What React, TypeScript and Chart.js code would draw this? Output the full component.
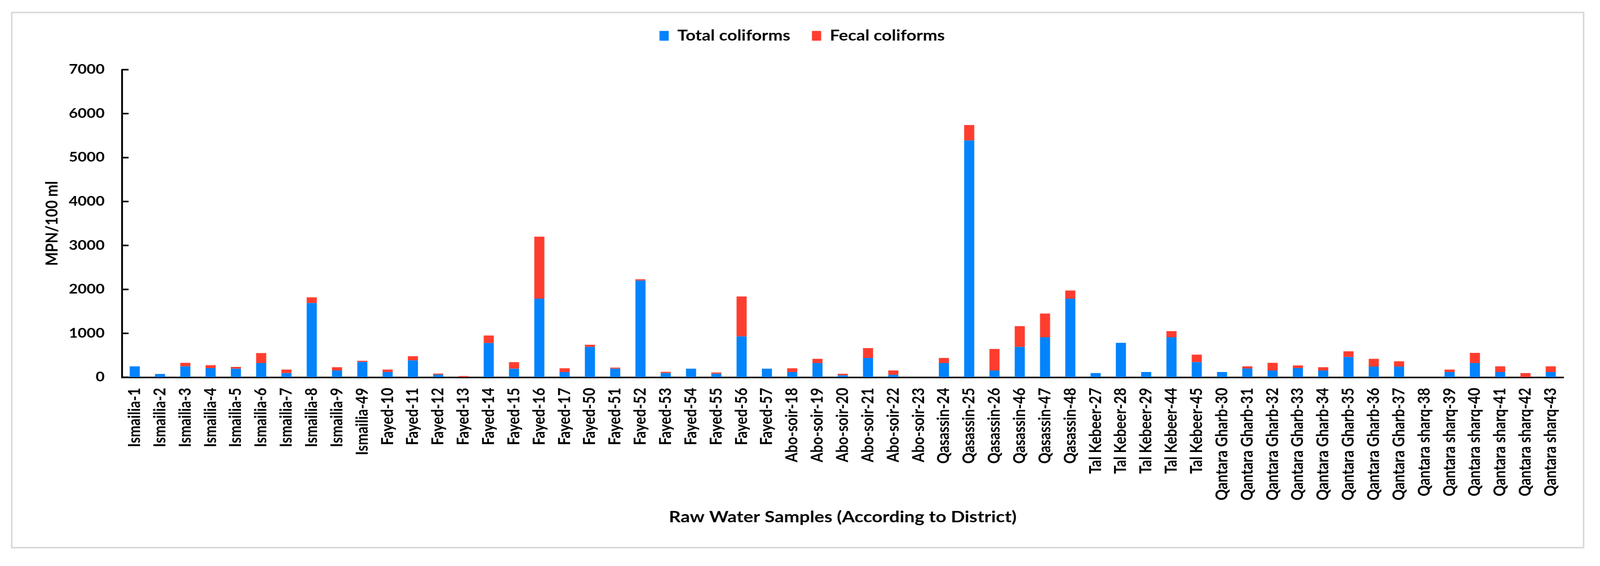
import { useEffect, useRef } from "react";
import { Chart, registerables } from "chart.js";

Chart.register(...registerables);

const samples = [
  "Ismailia-1", "Ismailia-2", "Ismailia-3", "Ismailia-4", "Ismailia-5", "Ismailia-6", "Ismailia-7", "Ismailia-8", "Ismailia-9", "Ismailia-49",
  "Fayed-10", "Fayed-11", "Fayed-12", "Fayed-13", "Fayed-14", "Fayed-15", "Fayed-16", "Fayed-17",
  "Fayed-50", "Fayed-51", "Fayed-52", "Fayed-53", "Fayed-54", "Fayed-55", "Fayed-56", "Fayed-57",
  "Abo-soir-18", "Abo-soir-19", "Abo-soir-20", "Abo-soir-21", "Abo-soir-22", "Abo-soir-23",
  "Qasassin-24", "Qasassin-25", "Qasassin-26", "Qasassin-46", "Qasassin-47", "Qasassin-48",
  "Tal Kebeer-27", "Tal Kebeer-28", "Tal Kebeer-29", "Tal Kebeer-44", "Tal Kebeer-45",
  "Qantara Gharb-30", "Qantara Gharb-31", "Qantara Gharb-32", "Qantara Gharb-33", "Qantara Gharb-34", "Qantara Gharb-35", "Qantara Gharb-36", "Qantara Gharb-37",
  "Qantara sharq-38", "Qantara sharq-39", "Qantara sharq-40", "Qantara sharq-41", "Qantara sharq-42", "Qantara sharq-43",
];

// blue part of each bar
const totalColiforms = [
  250, 75, 250, 210, 195, 325, 95, 1690, 155, 350,
  120, 385, 60, 5, 780, 195, 1790, 120,
  690, 195, 2200, 95, 195, 80, 930, 195,
  120, 325, 45, 440, 55, 0,
  325, 5390, 155, 690, 910, 1790,
  95, 785, 120, 910, 345,
  120, 200, 155, 210, 155, 460, 245, 245,
  0, 120, 325, 120, 0, 120,
];

// red part stacked on top
const fecalColiforms = [
  0, 0, 80, 65, 40, 225, 80, 130, 75, 25,
  55, 95, 25, 25, 170, 150, 1410, 85,
  50, 25, 30, 30, 0, 30, 910, 0,
  85, 95, 35, 225, 100, 0,
  115, 350, 490, 475, 540, 185,
  0, 0, 0, 140, 170,
  0, 50, 175, 60, 75, 130, 175, 120,
  0, 55, 230, 130, 95, 130,
];

const yMax = 7000;
const yStep = 1000;

// the original figure is stretched sideways, so the canvas is drawn narrower and widened with css
const STRETCH = 1.18;
const H = 1434;
const FONT = "Lato";

// Excel style tick marks pointing into the plot
const innerTicks = {
  id: "innerTicks",
  afterDraw(chart: any) {
    const { ctx, chartArea } = chart;
    const y = chart.scales.y;
    ctx.save();
    ctx.strokeStyle = "#000";
    ctx.lineWidth = 4;
    ctx.beginPath();
    y.ticks.forEach((t: any) => {
      const py = y.getPixelForValue(t.value);
      ctx.moveTo(chartArea.left, py);
      ctx.lineTo(chartArea.left + 14, py);
    });
    ctx.stroke();
    ctx.restore();
  },
};

// extra gap under the legend
const legendGap = {
  id: "legendGap",
  beforeInit(chart: any) {
    const fit = chart.legend.fit;
    chart.legend.fit = function () {
      fit.bind(chart.legend)();
      this.height += 58;
    };
  },
};

export default function App() {
  const canvasRef = useRef<HTMLCanvasElement | null>(null);
  const pageW = Math.max(1000, window.innerWidth - 16);
  const W = Math.round(pageW / STRETCH);

  useEffect(() => {
    if (!canvasRef.current) return;
    const ctx = canvasRef.current.getContext("2d");
    if (!ctx) return;

    const chart = new Chart(ctx, {
      type: "bar",
      data: {
        labels: samples,
        datasets: [
          {
            label: "Total coliforms",
            data: totalColiforms,
            backgroundColor: "#0383FC",
            borderWidth: 0,
          },
          {
            label: "Fecal coliforms",
            data: fecalColiforms,
            backgroundColor: "#FF3D2F",
            borderWidth: 0,
          },
        ],
      },
      options: {
        animation: false,
        responsive: false,
        devicePixelRatio: 1,
        datasets: { bar: { categoryPercentage: 1, barPercentage: 0.4 } },
        layout: { padding: { top: 18, left: 82, right: 73, bottom: 93 } },
        plugins: {
          tooltip: { enabled: false },
          legend: {
            position: "top",
            labels: {
              color: "#000",
              font: { family: FONT, size: 37.5, weight: "bold" },
              boxWidth: 20,
              boxHeight: 25,
              padding: 47,
            },
          },
        },
        scales: {
          x: {
            stacked: true,
            grid: { display: false, drawTicks: false },
            border: { color: "#000", width: 4 },
            ticks: {
              color: "#000",
              font: { family: FONT, size: 35.5, weight: "bold" },
              autoSkip: false,
              minRotation: 90,
              maxRotation: 90,
              padding: 27,
            },
            title: {
              display: true,
              text: "Raw Water Samples (According to District)",
              color: "#000",
              font: { family: FONT, size: 40, weight: "bold" },
              padding: { top: -8, bottom: 0 },
            },
          },
          y: {
            stacked: true,
            min: 0,
            max: yMax,
            grid: { display: false, drawTicks: false },
            border: { color: "#000", width: 4 },
            ticks: {
              stepSize: yStep,
              color: "#000",
              font: { family: FONT, size: 33.5, weight: "bold" },
              padding: 38,
              callback: (v: any) => String(v),
            },
            title: {
              display: true,
              text: "MPN/100 ml",
              color: "#000",
              font: { family: FONT, size: 37, weight: "bold" },
              padding: { top: 2, bottom: -24 },
            },
          },
        },
      },
      plugins: [innerTicks, legendGap],
    });

    return () => chart.destroy();
  }, []);

  return (
    <div style={{ position: "relative", width: pageW, height: H, background: "#fff", overflow: "hidden" }}>
      <div
        style={{
          position: "absolute",
          left: 20,
          top: 22,
          width: pageW - 52,
          height: 1375,
          border: "4px solid #dadada",
          boxSizing: "border-box",
        }}
      />
      <canvas
        ref={canvasRef}
        width={W}
        height={H}
        style={{
          position: "absolute",
          left: 0,
          top: 0,
          width: W,
          height: H,
          transform: `scaleX(${STRETCH})`,
          transformOrigin: "0 0",
        }}
      />
    </div>
  );
}
